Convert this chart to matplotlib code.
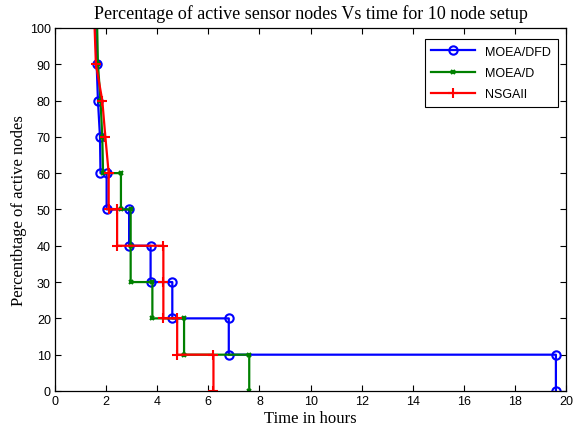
import matplotlib
matplotlib.use("Agg")
import matplotlib.pyplot as plt

# Time (hours) vs. percentage of active nodes for each algorithm
moea_dfd_t = [1.58, 1.63, 1.68, 1.76, 1.78, 2.02, 2.02, 2.90, 2.90, 3.74, 3.74, 4.59, 4.59, 6.80, 6.80, 19.6, 19.6]
moea_dfd_p = [100, 90, 80, 70, 60, 60, 50, 50, 40, 40, 30, 30, 20, 20, 10, 10, 0]

moea_d_t = [1.65, 1.68, 1.78, 1.85, 1.88, 2.58, 2.58, 2.96, 2.96, 2.96, 3.81, 3.81, 5.05, 5.05, 7.60, 7.60]
moea_d_p = [100, 90, 80, 70, 60, 60, 50, 50, 40, 30, 30, 20, 20, 10, 10, 0]

nsga2_t = [1.55, 1.60, 1.85, 1.97, 2.10, 2.10, 2.43, 2.43, 4.24, 4.24, 4.24, 4.78, 4.78, 6.20, 6.20]
nsga2_p = [100, 90, 80, 70, 60, 50, 50, 40, 40, 30, 20, 20, 10, 10, 0]

x_ticks = list(range(0, 21, 2))
y_ticks = list(range(0, 101, 10))

fig = plt.figure(figsize=(5.73, 4.31), dpi=100)
ax = fig.add_axes([0.096, 0.0905, 0.892, 0.8425])

lw = 1.6
ax.plot(moea_dfd_t, moea_dfd_p, color=(0, 0, 1), lw=lw, marker='o', ms=6,
        mfc='none', mew=1.5, markevery=list(range(1, len(moea_dfd_t))),
        label='MOEA/DFD')
ax.plot(moea_d_t, moea_d_p, color=(0, 0.5, 0), lw=lw, marker='x', ms=3.5,
        mew=1.5, markevery=list(range(1, len(moea_d_t))), label='MOEA/D')
ax.plot(nsga2_t, nsga2_p, color=(1, 0, 0), lw=lw, marker='+', ms=7.5,
        mew=1.5, markevery=list(range(1, len(nsga2_t))), label='NSGAII')

ax.set_xlim(0, 20)
ax.set_ylim(0, 100)
ax.set_xticks(x_ticks)
ax.set_yticks(y_ticks)
ax.tick_params(direction='in', length=4, width=0.8, top=True, right=True,
               labelsize=9, pad=3)
for lab in ax.get_xticklabels() + ax.get_yticklabels():
    lab.set_family('Liberation Sans')
for s in ax.spines.values():
    s.set_linewidth(0.9)

serif = 'Liberation Serif'
ax.set_title('Percentage of active sensor nodes Vs time for 10 node setup',
             family=serif, fontsize=13, pad=7)
ax.set_xlabel('Time in hours', family=serif, fontsize=12, labelpad=2)
ax.set_ylabel('Percentbtage of active nodes', family=serif, fontsize=12, labelpad=2)

leg = ax.legend(loc='upper right', bbox_to_anchor=(0.984, 0.970), borderaxespad=0,
                numpoints=1, handlelength=3.5, fancybox=False, edgecolor='black',
                framealpha=1, prop={'family': 'Liberation Sans', 'size': 9},
                borderpad=0.55, labelspacing=0.75)
leg.get_frame().set_linewidth(0.8)

fig.savefig('out.png', dpi=100)
